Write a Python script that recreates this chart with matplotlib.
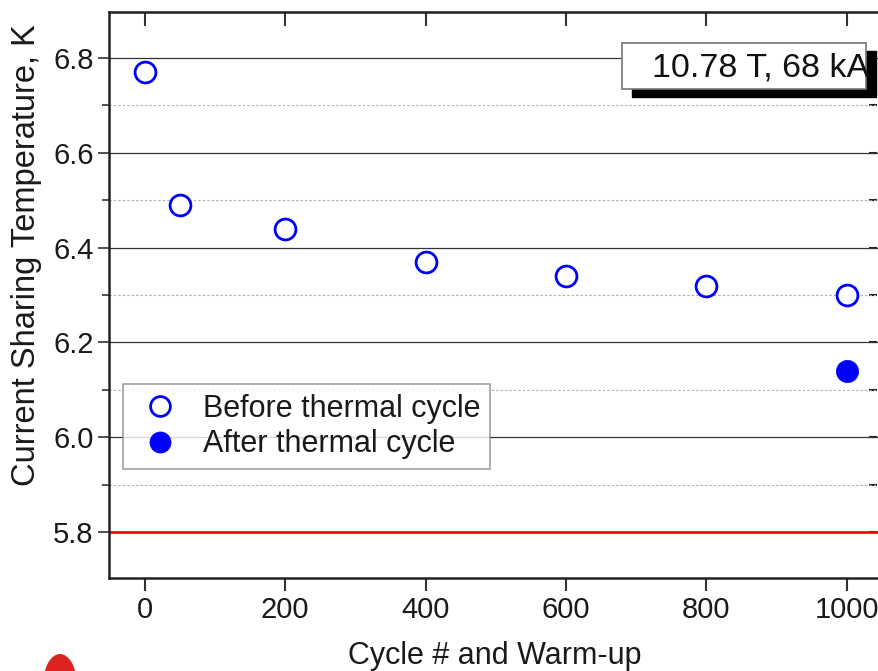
import matplotlib
matplotlib.use("Agg")
import matplotlib.pyplot as plt
from matplotlib.ticker import MultipleLocator, FormatStrFormatter
from matplotlib.patches import Ellipse, Rectangle

plt.rcParams['font.family'] = ['Liberation Sans', 'DejaVu Sans']

cycles_before = [0, 50, 200, 400, 600, 800, 1000]
tcs_before = [6.77, 6.49, 6.44, 6.37, 6.34, 6.32, 6.30]
cycles_after = [1000]
tcs_after = [6.14]
reference_level = 5.8
x_ticks = [0, 200, 400, 600, 800, 1000]

W, H = 879, 671
fig = plt.figure(figsize=(W / 100, H / 100), dpi=100)
ax = fig.add_axes([109 / W, 1 - 578 / H, (881 - 109) / W, (578 - 12) / H])

ax.set_xlim(-51, 1049)
ax.set_ylim(5.703, 6.897)
ax.set_xticks(x_ticks)
ax.yaxis.set_major_locator(MultipleLocator(0.2))
ax.yaxis.set_minor_locator(MultipleLocator(0.1))
ax.yaxis.set_major_formatter(FormatStrFormatter('%.1f'))

ax.grid(True, which='major', axis='y', color='#333333', lw=0.9, zorder=0)
ax.grid(True, which='minor', axis='y', color='#aaaaaa', lw=0.8, ls=(0, (2, 2)), zorder=0)

ax.axhline(reference_level, color='#ff0000', lw=1.9, zorder=2)

ax.plot(cycles_before, tcs_before, ls='none', marker='o', ms=15, mfc='white',
        mec='#0000ff', mew=2.0, label='Before thermal cycle', zorder=3)
ax.plot(cycles_after, tcs_after, ls='none', marker='o', ms=16, mfc='#0000ff',
        mec='#0000ff', mew=0.5, label='After thermal cycle', zorder=3)

for s in ['left', 'bottom', 'top']:
    ax.spines[s].set_linewidth(1.8)
    ax.spines[s].set_color('#222222')
ax.spines['right'].set_visible(False)

ax.tick_params(axis='x', which='major', direction='out', length=9, width=1.5,
               labelsize=21, pad=4, top=False, color='#333333')
ax.tick_params(axis='y', which='major', direction='out', length=8, width=1.2,
               labelsize=21, pad=3, color='#333333')
ax.tick_params(axis='y', which='minor', direction='out', length=5, width=1.2,
               color='#333333')
ax2 = ax.secondary_xaxis('top')
ax2.set_xticks(x_ticks)
ax2.tick_params(direction='in', length=10, width=1.5, labeltop=False, color='#333333')
ax3 = ax.secondary_yaxis(1.0 - 4 / (881 - 109))
ax3.yaxis.set_major_locator(MultipleLocator(0.2))
ax3.yaxis.set_minor_locator(MultipleLocator(0.1))
ax3.tick_params(which='both', direction='in', length=6, width=1.5, labelright=False, color='#222222')
ax3.spines['right'].set_visible(False)

ax.set_xlabel('Cycle # and Warm-up', fontsize=22, labelpad=12, color='#1a1a1a')
ax.set_ylabel('Current Sharing Temperature, K', fontsize=23.5, color='#1a1a1a')
ax.yaxis.set_label_coords(-0.087, 0.571)
for lab in ax.get_xticklabels() + ax.get_yticklabels():
    lab.set_color('#1a1a1a')

leg = ax.legend(loc='upper left', bbox_to_anchor=((123 - 109) / 772, 1 - (384 - 12) / 566),
                fontsize=22, frameon=True, fancybox=False, handletextpad=0.55,
                borderpad=0.32, labelspacing=0.18, handlelength=1.75, borderaxespad=0,
                markerscale=0.95)
leg.get_frame().set_edgecolor('#888888')
leg.get_frame().set_linewidth(1.2)
for t in leg.get_texts():
    t.set_color('#1a1a1a')
leg.set_zorder(5)

fig.patches.append(Rectangle((632 / W, 1 - 97 / H), (876 - 632) / W, (97 - 51) / H,
                   transform=fig.transFigure, facecolor='black', edgecolor='black', zorder=6))
fig.patches.append(Rectangle((622 / W, 1 - 89 / H), (866 - 622) / W, (89 - 43) / H,
                   transform=fig.transFigure, facecolor='white', edgecolor='#777777', lw=1.2, zorder=7))
fig.text(869 / W, 1 - 68 / H, '10.78 T, 68 kA', ha='right', va='center', fontsize=24.5,
         color='#111111', zorder=8)

fig.patches.append(Ellipse((60 / W, 1 - 685 / H), 34 / W, 62 / H, transform=fig.transFigure,
                           facecolor='#dd2222', edgecolor='none', zorder=9))

fig.savefig('out.png', dpi=100)
